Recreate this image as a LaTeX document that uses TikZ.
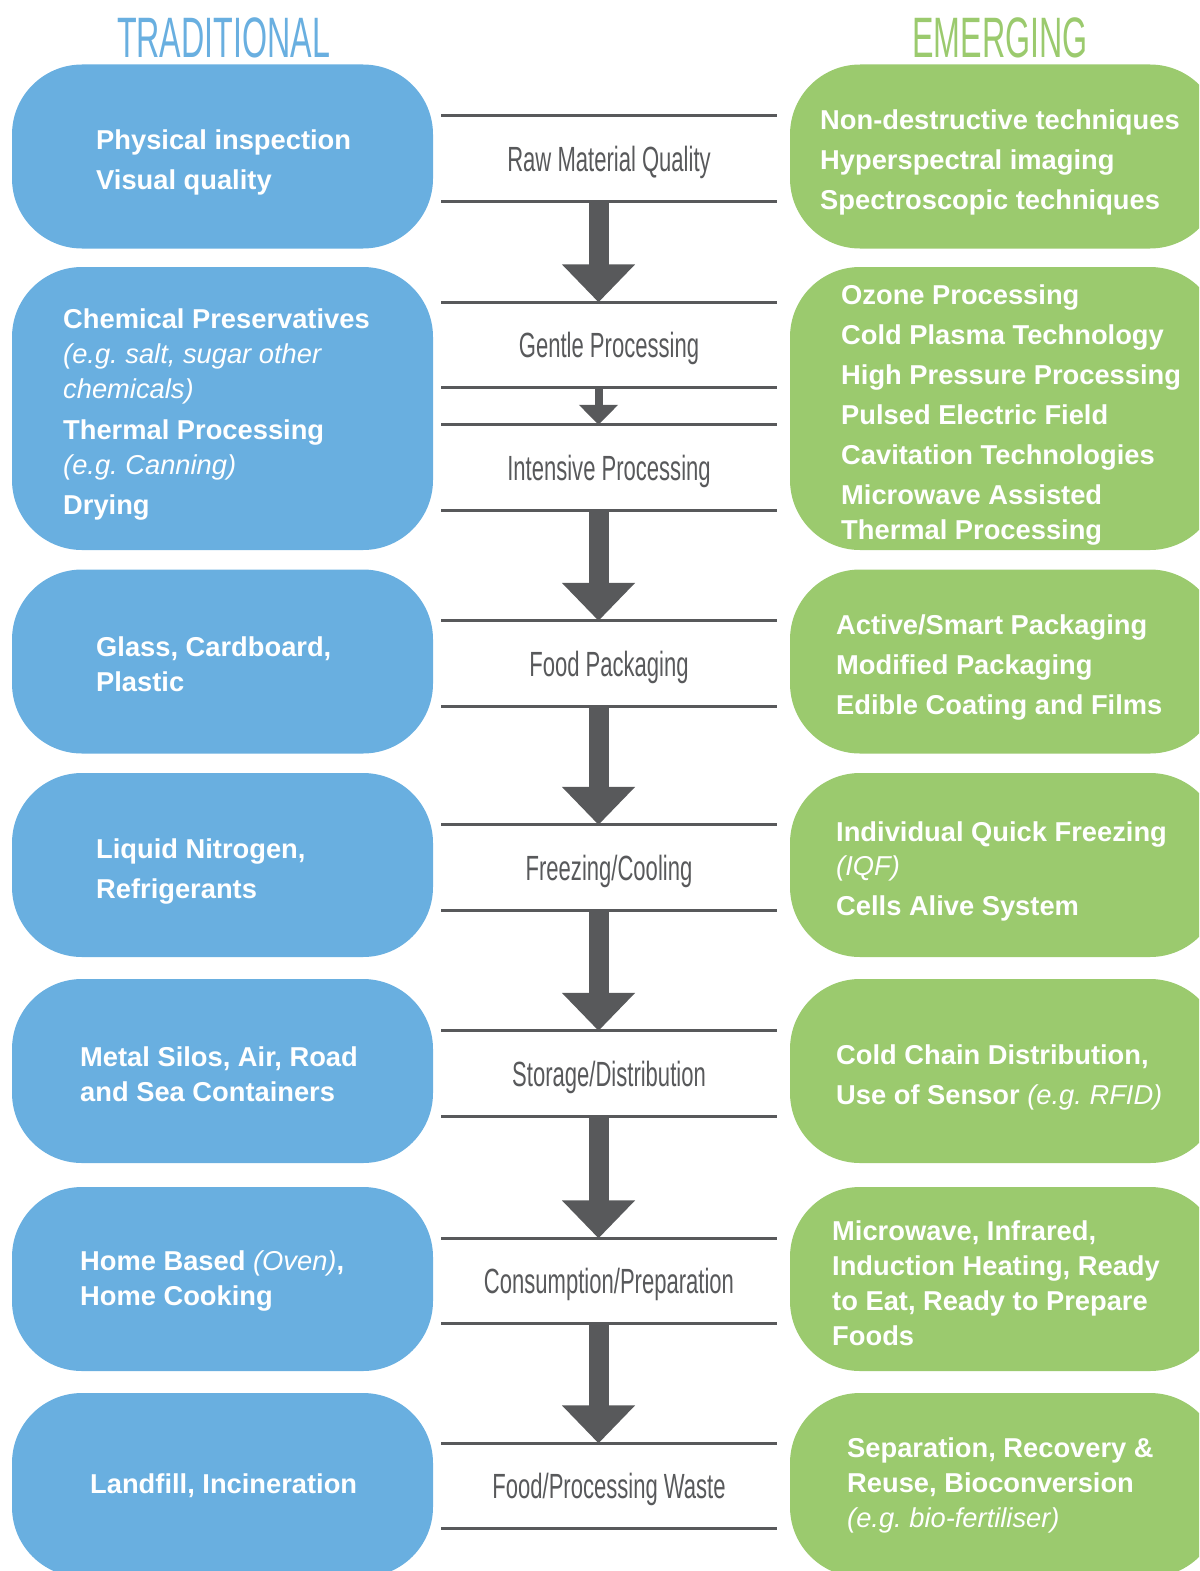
\documentclass[tikz,border=0pt]{standalone}
\usepackage{fontspec}
\setmainfont{Liberation Sans}
\newfontfamily\titlefont[FakeStretch=0.565]{Liberation Sans}
\newfontfamily\stagefont[FakeStretch=0.63]{Liberation Sans}
\usetikzlibrary{arrows.meta}
\definecolor{tradblue}{HTML}{69AFE0}
\definecolor{emergreen}{HTML}{9BCA6E}
\definecolor{steel}{HTML}{58595B}
\newcommand{\lite}[1]{{\mdseries\itshape #1}}
\frenchspacing
\tikzset{
  % kolumner
  ttl/.style={font=\titlefont\fontsize{57}{60}\selectfont,inner sep=0pt,
              text height=41pt,text depth=0pt},
  tbox/.style={rectangle,rounded corners=70pt,fill=tradblue,minimum width=421pt,
               minimum height=184pt,inner sep=0pt},
  ebox/.style={tbox,fill=emergreen,minimum width=430pt},
  btxt/.style={anchor=west,align=left,inner sep=0pt,text=white,yshift=-2pt,
               font=\bfseries\fontsize{27.3}{40}\selectfont},
  tight/.style={font=\bfseries\fontsize{27.3}{35}\selectfont},
  % kedjan
  stage/.style={minimum width=335pt,minimum height=85pt,inner sep=0pt,text=steel,
                font=\stagefont\fontsize{35}{40}\selectfont,text height=25pt,text depth=0pt},
  band/.style={draw=steel,line width=3pt},
  flow/.style={-{Triangle[length=38pt,width=71pt]},draw=steel,line width=20pt},
  flowsm/.style={-{Triangle[length=20pt,width=38pt]},draw=steel,line width=8pt},
}
\begin{document}
\begin{tikzpicture}[x=1pt,y=-1pt]
  \useasboundingbox (0,0) rectangle (1199,1571);
  \clip (0,0) rectangle (1199,1571);
  \node[ttl,text=tradblue] (trad) at (223.5,37.5) {TRADITIONAL};
  \node[ttl,text=emergreen] (emer) at (1000,37.5) {EMERGING};
  % traditionellt
  \node[tbox] (t1) at (222.5,156.5) {};
  \node[tbox,minimum height=283pt] (t2) at (222.5,408.5) {};
  \node[tbox] (t3) at (222.5,661.5) {};
  \node[tbox] (t4) at (222.5,865) {};
  \node[tbox] (t5) at (222.5,1071) {};
  \node[tbox] (t6) at (222.5,1279) {};
  \node[tbox] (t7) at (222.5,1485) {};
  \node[btxt] (t1x) at (96,160) {Physical inspection\\Visual quality};
  \node[btxt,tight] (t2x) at (63,412) {Chemical Preservatives\\\lite{(e.g. salt, sugar other}\\\lite{chemicals)}\\[6pt]Thermal Processing\\\lite{(e.g. Canning)}\\[5pt]Drying};
  \node[btxt,tight] (t3x) at (96,662.5) {Glass, Cardboard,\\Plastic};
  \node[btxt] (t4x) at (96,869) {Liquid Nitrogen,\\Refrigerants};
  \node[btxt,tight] (t5x) at (80,1072.5) {Metal Silos, Air, Road\\and Sea Containers};
  \node[btxt,tight] (t6x) at (80,1278.5) {Home Based \lite{(Oven)},\\Home Cooking};
  \node[btxt] (t7x) at (90,1484) {Landfill, Incineration};
  % nya metoder
  \node[ebox] (e1) at (1005,156.5) {};
  \node[ebox,minimum height=283pt] (e2) at (1005,408.5) {};
  \node[ebox] (e3) at (1005,661.5) {};
  \node[ebox] (e4) at (1005,865) {};
  \node[ebox] (e5) at (1005,1071) {};
  \node[ebox] (e6) at (1005,1279) {};
  \node[ebox] (e7) at (1005,1485) {};
  \node[btxt] (e1x) at (820,160) {Non-destructive techniques\\Hyperspectral imaging\\Spectroscopic techniques};
  \node[btxt] (e2x) at (841,412.5) {Ozone Processing\\Cold Plasma Technology\\High Pressure Processing\\Pulsed Electric Field\\Cavitation Technologies\\Microwave Assisted\\[-5pt]Thermal Processing};
  \node[btxt] (e3x) at (836,665) {Active/Smart Packaging\\Modified Packaging\\Edible Coating and Films};
  \node[btxt] (e4x) at (836,869) {Individual Quick Freezing\\[-6pt]\lite{(IQF)}\\Cells Alive System};
  \node[btxt] (e5x) at (836,1075) {Cold Chain Distribution,\\Use of Sensor \lite{(e.g. RFID)}};
  \node[btxt,tight] (e6x) at (832,1281) {Microwave, Infrared,\\Induction Heating, Ready\\to Eat, Ready to Prepare\\Foods};
  \node[btxt,tight] (e7x) at (847,1483.5) {Separation, Recovery \&\\Reuse, Bioconversion\\\lite{(e.g. bio-fertiliser)}};
  % steg
  \node[stage] (raw) at (609,158.5) {Raw Material Quality};
  \node[stage] (gentle) at (609,345) {Gentle Processing};
  \node[stage] (intens) at (609,467.5) {Intensive Processing};
  \node[stage] (pack) at (609,663.5) {Food Packaging};
  \node[stage] (freeze) at (609,867.5) {Freezing/Cooling};
  \node[stage] (store) at (609,1073.5) {Storage/Distribution};
  \node[stage] (consume) at (609,1281) {Consumption/Preparation};
  \node[stage] (waste) at (609,1486) {Food/Processing Waste};
  \foreach \s in {raw,gentle,intens,pack,freeze,store,consume,waste}
    \draw[band] (\s.north west) -- (\s.north east) (\s.south west) -- (\s.south east);
  \draw[flow] ([xshift=-10.5pt]raw.south) -- ([xshift=-10.5pt]gentle.north);
  \draw[flowsm] ([xshift=-10.5pt]gentle.south) -- ([xshift=-10.5pt]intens.north);
  \draw[flow] ([xshift=-10.5pt]intens.south) -- ([xshift=-10.5pt]pack.north);
  \draw[flow] ([xshift=-10.5pt]pack.south) -- ([xshift=-10.5pt]freeze.north);
  \draw[flow] ([xshift=-10.5pt]freeze.south) -- ([xshift=-10.5pt]store.north);
  \draw[flow] ([xshift=-10.5pt]store.south) -- ([xshift=-10.5pt]consume.north);
  \draw[flow] ([xshift=-10.5pt]consume.south) -- ([xshift=-10.5pt]waste.north);
\end{tikzpicture}
\end{document}
